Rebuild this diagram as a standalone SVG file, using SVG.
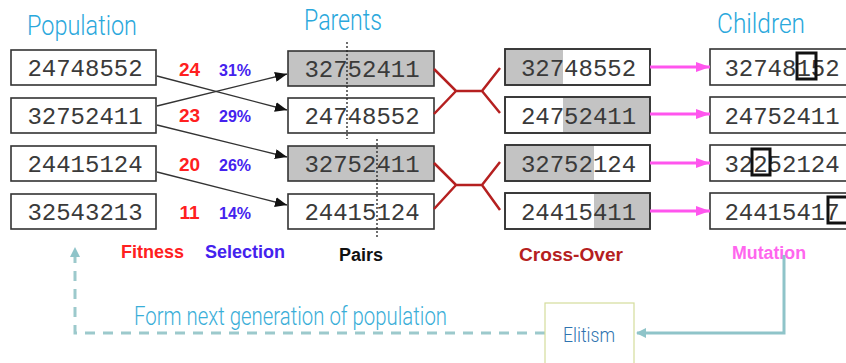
<svg xmlns="http://www.w3.org/2000/svg" width="846" height="363" viewBox="0 0 846 363">
<style>
.box{fill:#fff;stroke:#333;stroke-width:1.6}
.gray{fill:#c3c3c3}
.code{font-family:"Liberation Mono","Courier New",monospace;font-size:24px;fill:#3a3a3a;text-anchor:middle}
.head{font-family:Roboto,"Liberation Sans",sans-serif;font-weight:300;fill:#2aa8dc}
.num{font-family:"Liberation Sans",Arial,sans-serif;font-weight:bold;text-anchor:middle}
.fit{fill:#ff2020;font-size:19px}
.sel{fill:#4422ee;font-size:16px}
.lab{font-family:"Liberation Sans",Arial,sans-serif;font-weight:bold;font-size:18px}
.sel-arrow{stroke:#333;stroke-width:1.4;fill:none;marker-end:url(#ah)}
.xo{stroke:#b52020;stroke-width:2.5;fill:none}
.mut{stroke:#ff55ee;stroke-width:3;fill:none;marker-end:url(#ph)}
.mbox{fill:none;stroke:#111;stroke-width:3}
.cut{stroke:#222;stroke-width:1.3;stroke-dasharray:2 2}
.light{font-family:Roboto,"Liberation Sans",sans-serif;font-weight:300}
</style>
<defs>
<marker id="ah" markerUnits="userSpaceOnUse" markerWidth="12" markerHeight="10" refX="12" refY="5" orient="auto"><path d="M0,0 L12,5 L0,10 Z" fill="#111"/></marker>
<marker id="ph" markerUnits="userSpaceOnUse" markerWidth="14" markerHeight="10" refX="14" refY="5" orient="auto"><path d="M0,0 L14,5 L0,10 Z" fill="#ff55ee"/></marker>
<marker id="th" markerUnits="userSpaceOnUse" markerWidth="10" markerHeight="10" refX="9" refY="5" orient="auto"><path d="M0,0 L10,5 L0,10 Z" fill="#8fc4c9"/></marker>
</defs>

<g id="headings">
<text class="head" x="27" y="35" font-size="28" textLength="110" lengthAdjust="spacingAndGlyphs">Population</text>
<text class="head" x="304" y="30" font-size="30" textLength="78" lengthAdjust="spacingAndGlyphs">Parents</text>
<text class="head" x="717" y="33" font-size="27" textLength="88" lengthAdjust="spacingAndGlyphs">Children</text>
</g>

<g id="population">
<g id="pop1"><rect class="box" x="11" y="50" width="145" height="35"/><text class="code" x="85" y="76">24748552</text></g>
<g id="pop2"><rect class="box" x="11" y="98" width="145" height="35"/><text class="code" x="85" y="124">32752411</text></g>
<g id="pop3"><rect class="box" x="11" y="146" width="145" height="35"/><text class="code" x="85" y="172">24415124</text></g>
<g id="pop4"><rect class="box" x="11" y="194" width="145" height="35"/><text class="code" x="85" y="220">32543213</text></g>
</g>

<g id="scores">
<text class="num fit" x="189.5" y="76">24</text><text class="num sel" x="235" y="76">31%</text>
<text class="num fit" x="189.5" y="122">23</text><text class="num sel" x="235" y="122">29%</text>
<text class="num fit" x="189.5" y="171">20</text><text class="num sel" x="235" y="171">26%</text>
<text class="num fit" x="189.5" y="219">11</text><text class="num sel" x="235" y="219">14%</text>
</g>

<g id="parents">
<g id="par1"><rect class="box" x="288" y="51" width="146" height="35" style="fill:#c3c3c3"/><text class="code" x="362" y="77">32752411</text></g>
<g id="par2"><rect class="box" x="288" y="98" width="146" height="35"/><text class="code" x="362" y="124">24748552</text></g>
<g id="par3"><rect class="box" x="288" y="146" width="146" height="35" style="fill:#c3c3c3"/><text class="code" x="362" y="172">32752411</text></g>
<g id="par4"><rect class="box" x="288" y="194" width="146" height="35"/><text class="code" x="362" y="220">24415124</text></g>
<line class="cut" x1="347" y1="42" x2="347" y2="139"/>
<line class="cut" x1="377" y1="139" x2="377" y2="238"/>
</g>

<g id="crossover">
<g id="co1"><rect class="box" x="505" y="49" width="145" height="36"/><rect class="gray" x="506" y="50" width="57" height="34"/><rect x="505" y="49" width="145" height="36" fill="none" stroke="#333" stroke-width="1.6"/><text class="code" x="578.5" y="76">32748552</text></g>
<g id="co2"><rect class="box" x="505" y="97" width="145" height="36"/><rect class="gray" x="563" y="98" width="86" height="34"/><rect x="505" y="97" width="145" height="36" fill="none" stroke="#333" stroke-width="1.6"/><text class="code" x="578.5" y="124">24752411</text></g>
<g id="co3"><rect class="box" x="505" y="145" width="145" height="36"/><rect class="gray" x="506" y="146" width="88" height="34"/><rect x="505" y="145" width="145" height="36" fill="none" stroke="#333" stroke-width="1.6"/><text class="code" x="578.5" y="172">32752124</text></g>
<g id="co4"><rect class="box" x="505" y="193" width="145" height="36"/><rect class="gray" x="594" y="194" width="55" height="34"/><rect x="505" y="193" width="145" height="36" fill="none" stroke="#333" stroke-width="1.6"/><text class="code" x="578.5" y="220">24415411</text></g>
</g>

<g id="children">
<g id="ch1"><rect class="box" x="710" y="49" width="145" height="36"/><text class="code" x="782" y="76">32748152</text><rect class="mbox" x="797" y="53" width="19" height="26"/></g>
<g id="ch2"><rect class="box" x="710" y="97" width="145" height="36"/><text class="code" x="782" y="124">24752411</text></g>
<g id="ch3"><rect class="box" x="710" y="145" width="145" height="36"/><text class="code" x="782" y="172">32252124</text><rect class="mbox" x="752" y="149" width="18" height="26"/></g>
<g id="ch4"><rect class="box" x="710" y="193" width="145" height="36"/><text class="code" x="782" y="220">24415417</text><rect class="mbox" x="828" y="197" width="20" height="26"/></g>
</g>

<g id="labels">
<text class="lab" x="121" y="258" fill="#ff2020">Fitness</text>
<text class="lab" x="205" y="258" fill="#4422ee">Selection</text>
<text class="lab" x="339" y="261" fill="#111">Pairs</text>
<text class="lab" x="519" y="261" fill="#b52020" textLength="104" lengthAdjust="spacingAndGlyphs">Cross-Over</text>
<text class="lab" x="732" y="259" fill="#ff66ee" textLength="74" lengthAdjust="spacingAndGlyphs">Mutation</text>
</g>

<g id="connectors">
<line class="sel-arrow" x1="157" y1="76" x2="287" y2="110"/>
<line class="sel-arrow" x1="157" y1="106" x2="287" y2="74"/>
<line class="sel-arrow" x1="157" y1="125" x2="287" y2="157"/>
<line class="sel-arrow" x1="157" y1="172" x2="287" y2="205"/>
<path class="xo" d="M434,69 L456,91 L482,91 L500,68 M434,114 L456,91 M482,91 L500,113"/>
<path class="xo" d="M434,163 L456,185 L482,185 L500,162 M434,209 L456,185 M482,185 L500,210"/>
<line class="mut" x1="650" y1="67" x2="710" y2="67"/>
<line class="mut" x1="650" y1="114" x2="710" y2="114"/>
<line class="mut" x1="650" y1="163" x2="710" y2="163"/>
<line class="mut" x1="650" y1="211" x2="710" y2="211"/>
<path d="M784,255 L784,333 L637,333" fill="none" stroke="#8fc4c9" stroke-width="3" marker-end="url(#th)"/>
<path d="M545,333 L75,333 L75,248" fill="none" stroke="#9cc9cc" stroke-width="3" stroke-dasharray="10 8" marker-end="url(#th)"/>
</g>

<g id="elitism">
<rect x="545" y="303" width="89" height="75" fill="#fff" stroke="#d4dc9c" stroke-width="1.2"/>
<text class="light" x="589" y="342" font-size="21" fill="#2f74b0" text-anchor="middle" textLength="52" lengthAdjust="spacingAndGlyphs">Elitism</text>
</g>

<text class="light" x="134" y="325" font-size="25" fill="#3aaed8" textLength="313" lengthAdjust="spacingAndGlyphs">Form next generation of population</text>
</svg>
